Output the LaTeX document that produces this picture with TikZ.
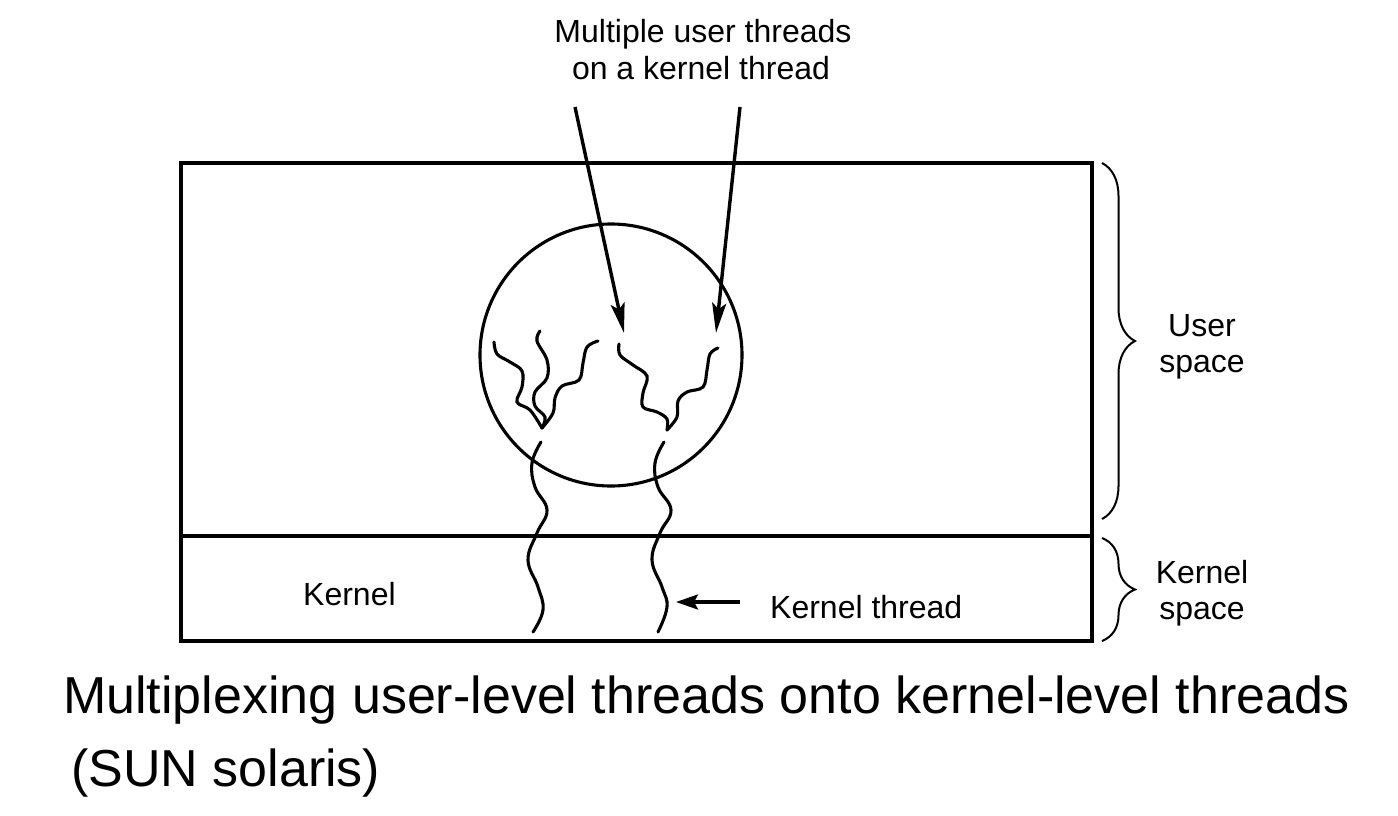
\documentclass[tikz,border=0pt]{standalone}
\usepackage{fontspec}
\setmainfont{Liberation Sans}
\usetikzlibrary{arrows.meta,decorations.pathreplacing}
\begin{document}
\begin{tikzpicture}[x=1pt,y=-1pt,
  lbl/.style={font=\fontsize{32}{38}\selectfont, inner sep=0pt, anchor=base},
  captxt/.style={font=\fontsize{52}{62}\selectfont, inner sep=0pt, anchor=base west},
  frame/.style={line width=3.1pt},
  thr/.style={line width=3.1pt, line cap=round},
  ptr/.style={line width=3.4pt, -{Stealth[length=30pt,width=14pt,inset=6pt]}},
  kptr/.style={line width=3.4pt, -{Stealth[length=22pt,width=15pt,inset=4pt]}},
  brc/.style={decorate, decoration={brace, amplitude=33pt}, line width=2pt}]
\useasboundingbox (0,0) rectangle (1398,815);

% frame
\draw[frame] (181,163) rectangle (1092,641);
\draw[frame] (181,536) -- (1092,536);

% process circle
\node[draw, circle, line width=3.1pt, minimum size=262pt, inner sep=0pt] (proc) at (611,355) {};

% user threads
\draw[thr] plot[smooth, tension=0.6] coordinates {(494,342) (497,354) (510,362) (522,371) (522,387) (517,402) (530,410) (542,428)};
\draw[thr] plot[smooth, tension=0.6] coordinates {(540,331) (537,341) (547,360) (547,378) (535,392) (535,406) (545,417) (542,428)};
\draw[thr] plot[smooth, tension=0.6] coordinates {(598,341) (587,347) (583,363) (579,380) (562,386) (555,398) (553,413) (542,428)};
\draw[thr] plot[smooth, tension=0.6] coordinates {(619,344) (620,355) (633,365) (647,376) (643,393) (643,407) (657,412) (667,419) (667,430)};
\draw[thr] plot[smooth, tension=0.6] coordinates {(718,348) (710,354) (707,370) (703,387) (687,392) (678,401) (677,417) (667,430)};

% kernel threads
\draw[thr] plot[smooth, tension=0.7] coordinates {(541,442) (532,463) (535,487) (547,510) (537,533) (528,560) (538,587) (543,610) (533,632)};
\draw[thr] plot[smooth, tension=0.7] coordinates {(664,442) (655,463) (658,487) (671,510) (660,533) (652,560) (662,587) (667,607) (658,632)};

% labels
\node[lbl] (mut1) at (703,42) {Multiple user threads};
\node[lbl] (mut2) at (701,79) {on a kernel thread};
\coordinate (a1s) at (575,107);
\coordinate (a1e) at (624,333);
\coordinate (a2s) at (740,107);
\coordinate (a2e) at (716,333);
\draw[ptr] (a1s) -- (a1e);
\draw[ptr] (a2s) -- (a2e);

\node[lbl, anchor=base west] (kern) at (303,605) {Kernel};
\node[lbl, anchor=base west] (kthr) at (770,618) {Kernel thread};
\coordinate (k1) at (740,602);
\coordinate (k2) at (676,602);
\draw[kptr] (k1) -- (k2);

% braces
\draw[brc] (1102,163) -- (1102,519);
\draw[brc] (1102,538) -- (1102,641);
\node[lbl] (us1) at (1202,336) {User};
\node[lbl] (us2) at (1202,372) {space};
\node[lbl] (ks1) at (1202,583) {Kernel};
\node[lbl] (ks2) at (1202,619) {space};

% caption
\node[captxt] (cap1) at (63,713) {Multiplexing user-level threads onto kernel-level threads};
\node[captxt] (cap2) at (71,786) {(SUN solaris)};
\end{tikzpicture}
\end{document}
